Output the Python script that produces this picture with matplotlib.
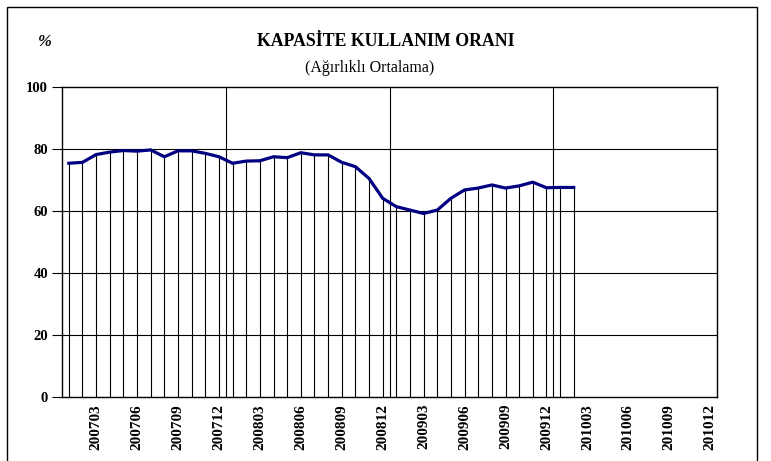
import matplotlib
matplotlib.use("Agg")
import matplotlib.pyplot as plt
from matplotlib.patches import Rectangle
import numpy as np

# Monthly capacity utilisation rate (weighted average), 200701 - 201002
values = [75.4, 75.7, 78.2, 79.0, 79.5, 79.3, 79.7, 77.5, 79.4, 79.4,
          78.6, 77.5, 75.4, 76.1, 76.2, 77.5, 77.2, 78.8, 78.1, 78.1,
          75.7, 74.3, 70.5, 64.1, 61.4, 60.3, 59.2, 60.3, 64.1, 66.8,
          67.4, 68.4, 67.4, 68.1, 69.3, 67.5, 67.6, 67.6]
n_months = 48  # 200701 .. 201012
tick_pos = [2, 5, 8, 11, 14, 17, 20, 23, 26, 29, 32, 35, 38, 41, 44, 47]
tick_labels = ["200703", "200706", "200709", "200712",
               "200803", "200806", "200809", "200812",
               "200903", "200906", "200909", "200912",
               "201003", "201006", "201009", "201012"]
year_breaks = [11.5, 23.5, 35.5]

plt.rcParams['font.family'] = ['Liberation Serif', 'DejaVu Serif']

fig = plt.figure(figsize=(7.71, 4.61), dpi=100)
ax = fig.add_axes([0.0804, 0.1388, 0.8496, 0.6725])

# outer chart frame
fig.patches.append(Rectangle((7 / 771, -0.05), 750 / 771, 1.05 - 7 / 461,
                             transform=fig.transFigure, fill=False,
                             edgecolor='black', linewidth=1.0))

x = np.arange(len(values))
ax.vlines(x, 0, values, colors='black', linewidth=0.8, zorder=2)
ax.plot(x, values, color='#000080', linewidth=2.3, zorder=3)

for b in year_breaks:
    ax.axvline(b, color='black', linewidth=0.8, zorder=1)
for yv in [20, 40, 60, 80]:
    ax.axhline(yv, color='black', linewidth=0.8, zorder=1)

ax.set_xlim(-0.5, n_months - 0.5)
ax.set_ylim(0, 100)
ax.set_yticks([0, 20, 40, 60, 80, 100])
ax.set_xticks(tick_pos)
ax.set_xticklabels(tick_labels, rotation=90, fontsize=11, fontweight='bold')
ax.tick_params(axis='x', length=0, pad=5)
ax.tick_params(axis='y', length=7, width=0.8, labelsize=10.5, pad=3)
for lab in ax.get_yticklabels():
    lab.set_fontweight('bold')
for s in ax.spines.values():
    s.set_linewidth(1.0)

fig.text(386 / 771, 1 - 42 / 461, "KAPASİTE KULLANIM ORANI", ha='center', va='center',
         fontsize=12.8, fontweight='bold')
fig.text(370 / 771, 1 - 68 / 461, "(Ağırlıklı Ortalama)", ha='center', va='center',
         fontsize=11.5)
fig.text(45 / 771, 1 - 42 / 461, "%", ha='center', va='center',
         fontsize=12, fontweight='bold', fontstyle='italic')

fig.savefig("out.png", dpi=100)
